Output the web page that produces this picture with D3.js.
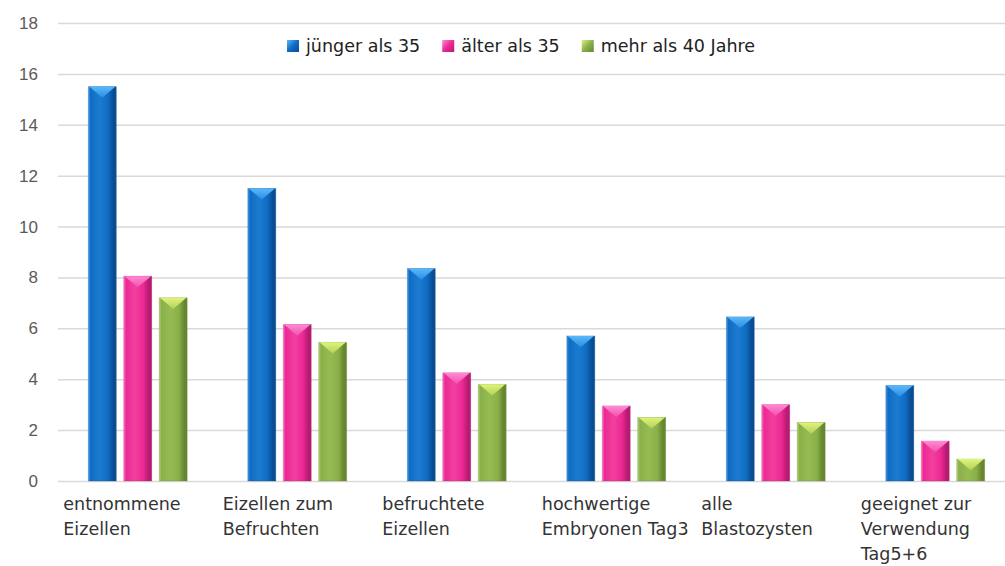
<!DOCTYPE html>
<html>
<head>
<meta charset="utf-8">
<script src="https://cdn.jsdelivr.net/npm/d3@7"></script>
<style>
   body { margin: 0; background: #fff; }
   svg { display: block; font-family: "DejaVu Sans", sans-serif; }
</style>
</head>
<body>
<svg class="chart" width="1005" height="566"></svg>
<script>
// DATA
var categories = [
   ['entnommene', 'Eizellen'],
   ['Eizellen zum', 'Befruchten'],
   ['befruchtete', 'Eizellen'],
   ['hochwertige', 'Embryonen Tag3'],
   ['alle', 'Blastozysten'],
   ['geeignet zur', 'Verwendung', 'Tag5+6']
];
var seriesNames = ['jünger als 35', 'älter als 35', 'mehr als 40 Jahre'];
var youngerThan35 = [15.5, 11.5, 8.35, 5.7, 6.45, 3.75];
var olderThan35 = [8.05, 6.15, 4.25, 2.95, 3.0, 1.57];
var over40 = [7.2, 5.45, 3.8, 2.5, 2.3, 0.86];
var yTicks = [0, 2, 4, 6, 8, 10, 12, 14, 16, 18];

var seriesValues = [youngerThan35, olderThan35, over40];

// colours for each series: edges, body, highlight, top cap
var palettes = [
   {light: '#4a9ee6', base: '#0f6cc4', mid: '#1c7bd0', dark: '#0a4d92', capTop: '#5ab8fa', capBottom: '#2a8de0'},
   {light: '#fb7cc6', base: '#ec2895', mid: '#f2409f', dark: '#b51b70', capTop: '#ff8ad6', capBottom: '#f052aa'},
   {light: '#b5d472', base: '#8ab04a', mid: '#96bb52', dark: '#66862f', capTop: '#dff37a', capBottom: '#b2d25a'}
];

(function drawChart() {
   var svg = d3.select('svg.chart');

   var bounds = {left: 58, right: 1015, top: 23, bottom: 481};

   var rows = categories.map(function (c, i) {
      return {
         key: c.join(' '),
         lines: c,
         values: seriesValues.map(function (s, j) {
            return {series: j, value: s[i]};
         })
      };
   });

   var groupScale = d3.scaleBand()
      .domain(rows.map(function (d) { return d.key; }))
      .range([bounds.left, bounds.right])
      .paddingInner(0.38)
      .paddingOuter(0.19);

   var seriesScale = d3.scaleBand()
      .domain(d3.range(seriesNames.length))
      .range([0, groupScale.bandwidth()])
      .paddingInner(0.21);

   var valueScale = d3.scaleLinear()
      .domain([0, 18])
      .range([bounds.bottom, bounds.top]);

   // gradients
   var defs = svg.append('defs');
   palettes.forEach(function (p, i) {
      var g = defs.append('linearGradient')
         .attr('id', 'body' + i)
         .attr('x1', 0).attr('x2', 1).attr('y1', 0).attr('y2', 0);
      [[0, p.light], [0.08, p.base], [0.4, p.mid], [0.7, p.base], [0.9, p.dark], [1, p.dark]]
         .forEach(function (s) {
            g.append('stop').attr('offset', s[0]).attr('stop-color', s[1]);
         });

      var cap = defs.append('linearGradient')
         .attr('id', 'cap' + i)
         .attr('x1', 0).attr('x2', 0).attr('y1', 0).attr('y2', 1);
      cap.append('stop').attr('offset', 0).attr('stop-color', p.capTop);
      cap.append('stop').attr('offset', 1).attr('stop-color', p.capBottom);

      var box = defs.append('linearGradient')
         .attr('id', 'box' + i)
         .attr('x1', 0).attr('x2', 1).attr('y1', 0).attr('y2', 1);
      box.append('stop').attr('offset', 0).attr('stop-color', p.capTop);
      box.append('stop').attr('offset', 0.5).attr('stop-color', p.base);
      box.append('stop').attr('offset', 1).attr('stop-color', p.dark);
   });

   // y axis: gridlines + labels
   var yAxis = d3.axisLeft(valueScale)
      .tickValues(yTicks)
      .tickSize(-(1005 - bounds.left))
      .tickPadding(20)
      .tickFormat(d3.format('d'));

   var yGroup = svg.append('g')
      .attr('class', 'axis axis--y')
      .attr('transform', 'translate(' + bounds.left + ',0)')
      .call(yAxis);

   yGroup.select('.domain').remove();
   yGroup.selectAll('.tick line')
      .attr('stroke', '#d9d9d9')
      .attr('stroke-width', 1.5);
   yGroup.selectAll('.tick text')
      .attr('fill', '#5a5a5a')
      .style('font-size', '17px');

   // bars
   var groups = svg.append('g')
      .attr('class', 'bars')
      .selectAll('.group')
      .data(rows)
      .enter().append('g')
      .attr('class', 'group')
      .attr('transform', function (d) {
         return 'translate(' + groupScale(d.key) + ',0)';
      });

   var bar = groups.selectAll('.bar')
      .data(function (d) { return d.values; })
      .enter().append('g')
      .attr('class', 'bar');

   bar.append('rect')
      .attr('x', function (d) { return seriesScale(d.series); })
      .attr('y', function (d) { return valueScale(d.value); })
      .attr('width', seriesScale.bandwidth())
      .attr('height', function (d) { return valueScale(0) - valueScale(d.value); })
      .attr('fill', function (d) { return 'url(#body' + d.series + ')'; })
      .attr('stroke', function (d) { return palettes[d.series].dark; })
      .attr('stroke-opacity', 0.35)
      .attr('stroke-width', 0.8);

   // lighter bevelled triangle on top of each bar
   bar.append('path')
      .attr('d', function (d) {
         var x = seriesScale(d.series),
            w = seriesScale.bandwidth(),
            y = valueScale(d.value),
            depth = Math.min(w * 0.4, (valueScale(0) - y) * 0.6);
         return 'M' + (x + 0.8) + ',' + y + 'L' + (x + w - 0.8) + ',' + y +
            'L' + (x + w / 2) + ',' + (y + depth) + 'Z';
      })
      .attr('fill', function (d) { return 'url(#cap' + d.series + ')'; });

   // category labels
   var labels = groups.append('text')
      .attr('class', 'category')
      .attr('fill', '#333')
      .style('font-size', '17.5px')
      .attr('transform', 'translate(-25,0)');

   labels.selectAll('tspan')
      .data(function (d) { return d.lines; })
      .enter().append('tspan')
      .attr('x', 0)
      .attr('y', function (d, i) { return 510 + i * 25; })
      .text(function (d) { return d; });

   // legend
   var legend = svg.append('g')
      .attr('class', 'legend')
      .attr('transform', 'translate(287,40)');

   var cursor = 0;
   seriesNames.forEach(function (name, i) {
      var item = legend.append('g')
         .attr('transform', 'translate(' + cursor + ',0)');

      item.append('rect')
         .attr('width', 12)
         .attr('height', 12)
         .attr('fill', 'url(#box' + i + ')');

      var t = item.append('text')
         .attr('x', 19)
         .attr('y', 6)
         .attr('dy', '0.35em')
         .attr('fill', '#222')
         .style('font-size', '17.5px')
         .text(name);

      cursor += 19 + t.node().getComputedTextLength() + 22;
   });
})();
</script>
</body>
</html>
